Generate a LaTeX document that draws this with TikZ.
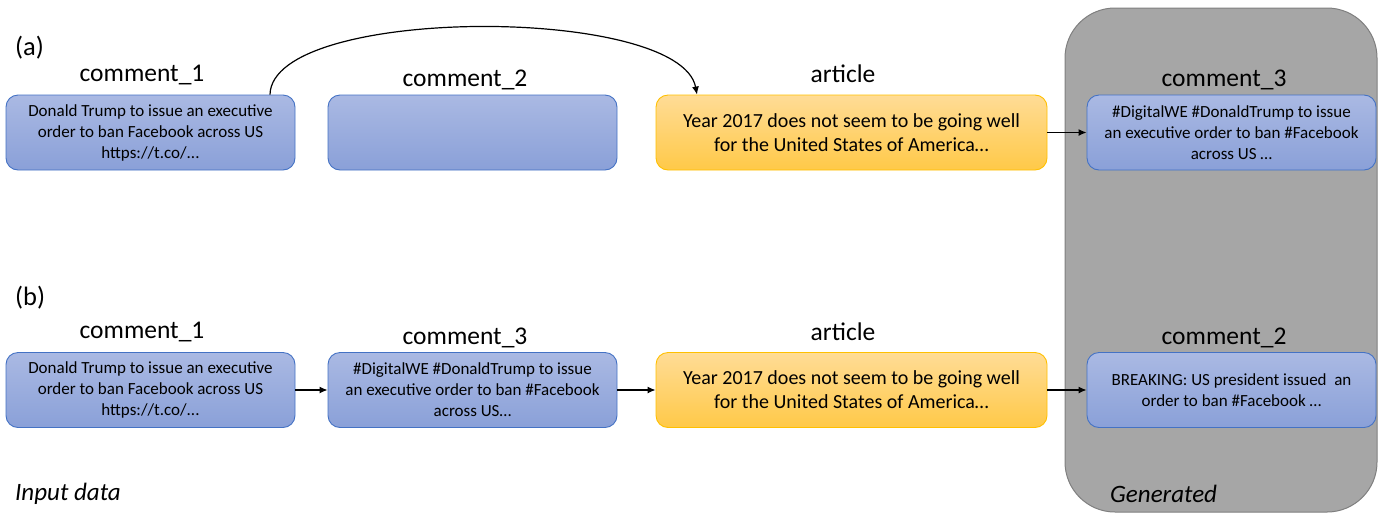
\documentclass[tikz,border=0pt]{standalone}
\usepackage{fontspec}
\setmainfont{Carlito}
\usetikzlibrary{arrows.meta}
\definecolor{bluetop}{HTML}{AAB9E3}
\definecolor{bluebot}{HTML}{8AA0D8}
\definecolor{blueedge}{HTML}{4472C4}
\definecolor{orgtop}{HTML}{FFDC96}
\definecolor{orgbot}{HTML}{FFC948}
\definecolor{orgedge}{HTML}{FFC000}
\definecolor{genfill}{HTML}{A6A6A6}
\definecolor{genedge}{HTML}{7F7F7F}
\tikzset{
  box/.style={rounded corners=12pt, line width=0.9pt, align=center, inner sep=0pt,
    minimum height=75pt},
  bluebox/.style={box, draw=blueedge, top color=bluetop, bottom color=bluebot,
    minimum width=289pt, font=\fontsize{17}{21}\selectfont},
  orgbox/.style={box, draw=orgedge, top color=orgtop, bottom color=orgbot,
    minimum width=391pt, font=\fontsize{20}{24}\selectfont},
  lbl/.style={font=\fontsize{25.5}{28}\selectfont, inner sep=0pt},
  tag/.style={font=\fontsize{26.5}{28}\selectfont, inner sep=0pt, anchor=west},
  foot/.style={font=\fontsize{25}{28}\selectfont\itshape, inner sep=0pt, anchor=west},
  conn/.style={line width=1.2pt, -{Latex[length=8pt,width=7pt]}}
}
\begin{document}
\begin{tikzpicture}[x=1pt,y=-1pt]
\useasboundingbox (0,0) rectangle (1383,515);
% generated panel
\node[draw=genedge, fill=genfill, line width=1pt, rounded corners=50pt,
  minimum width=312pt, minimum height=504pt, inner sep=0pt] (gen) at (1221,260) {};
\node[foot] (genlbl) at (1110,494) {Generated};
\node[foot] (inlbl) at (15,494) {Input data};
% row (a)
\node[tag] (taga) at (15,48) {(a)};
\node[bluebox] (a1) at (150.5,132.5) {Donald Trump to issue an executive\\order to ban Facebook across US\\https://t.co/...};
\node[bluebox] (a2) at (472.5,132.5) {};
\node[orgbox] (aart) at (851.5,132.5) {Year 2017 does not seem to be going well\\for the United States of America\dots};
\node[bluebox] (a3) at (1231.5,132.5) {\#DigitalWE \#DonaldTrump to issue\\an executive order to ban \#Facebook\\across US \dots};
\node[lbl] (la1) at (142,75) {comment\_1};
\node[lbl] (la2) at (465,80) {comment\_2};
\node[lbl] (laart) at (843,74) {article};
\node[lbl] (la3) at (1224,80) {comment\_3};
% row (b)
\node[tag] (tagb) at (15,298) {(b)};
\node[bluebox] (b1) at (150.5,390) {Donald Trump to issue an executive\\order to ban Facebook across US\\https://t.co/...};
\node[bluebox] (b3) at (472.5,390) {\#DigitalWE \#DonaldTrump to issue\\an executive order to ban \#Facebook\\across US\dots};
\node[orgbox] (bart) at (851.5,390) {Year 2017 does not seem to be going well\\for the United States of America\dots};
\node[bluebox] (b2) at (1231.5,390) {BREAKING: US president issued\ \ an\\order to ban \#Facebook \dots};
\node[lbl] (lb1) at (142,332) {comment\_1};
\node[lbl] (lb3) at (465,338) {comment\_3};
\node[lbl] (lbart) at (843,332) {article};
\node[lbl] (lb2) at (1224,338) {comment\_2};
% connectors
\coordinate (arcs) at (a1.north -| 270,0);
\coordinate (arce) at (aart.north -| 697,0);
\draw[conn] (arcs) .. controls (272,5) and (680,5) .. (arce);
\draw[conn] (aart.east) -- (a3.west);
\draw[conn] (b1.east) -- (b3.west);
\draw[conn] (b3.east) -- (bart.west);
\draw[conn] (bart.east) -- (b2.west);
\end{tikzpicture}
\end{document}
